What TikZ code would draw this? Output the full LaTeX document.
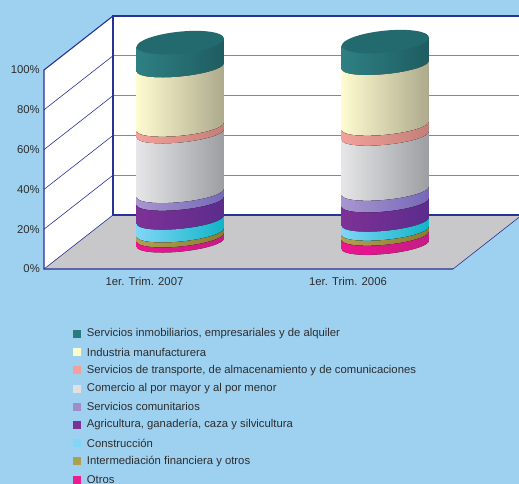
\documentclass[tikz,border=0pt]{standalone}
\usepackage{fontspec}
\setmainfont{Liberation Sans}
\usetikzlibrary{calc}

\definecolor{bgblue}{RGB}{158,208,240}
\definecolor{navy}{RGB}{40,50,150}
\definecolor{gridblue}{RGB}{125,130,200}
\definecolor{floorgray}{RGB}{200,200,202}
\definecolor{txtgray}{RGB}{45,45,45}
% side colours of the bands, lit from the left
\definecolor{tealL}{RGB}{46,128,132}\definecolor{tealR}{RGB}{30,92,96}
\definecolor{creamL}{RGB}{255,251,208}\definecolor{creamR}{RGB}{172,170,140}
\definecolor{pinkL}{RGB}{242,162,154}\definecolor{pinkR}{RGB}{196,126,120}
\definecolor{grayL}{RGB}{230,230,232}\definecolor{grayR}{RGB}{156,158,162}
\definecolor{lavL}{RGB}{168,150,208}\definecolor{lavR}{RGB}{118,104,184}
\definecolor{purL}{RGB}{126,49,150}\definecolor{purR}{RGB}{91,44,140}
\definecolor{cyanL}{RGB}{128,214,246}\definecolor{cyanR}{RGB}{16,180,200}
\definecolor{oliveL}{RGB}{176,160,80}\definecolor{oliveR}{RGB}{138,124,48}
\definecolor{magL}{RGB}{238,20,144}\definecolor{magR}{RGB}{196,28,132}
\definecolor{captop}{RGB}{35,106,110}
% legend swatches
\definecolor{legteal}{RGB}{42,122,126}
\definecolor{legcream}{RGB}{255,251,204}
\definecolor{legpink}{RGB}{244,160,154}
\definecolor{leggray}{RGB}{224,224,224}
\definecolor{leglav}{RGB}{160,140,200}
\definecolor{legpur}{RGB}{123,50,150}
\definecolor{legcyan}{RGB}{127,214,246}
\definecolor{legolive}{RGB}{172,160,80}
\definecolor{legmag}{RGB}{236,28,140}

\tikzset{
  edge line/.style={draw=navy, line width=1.1pt},
  wall line/.style={draw=navy, line width=0.6pt},
  grid line/.style={draw=gridblue, line width=1.2pt},
  axis label/.style={anchor=east, inner sep=0pt, text=txtgray, font=\fontsize{11.3}{13}\selectfont},
  cat label/.style={inner sep=0pt, text=txtgray, font=\fontsize{11.3}{13}\selectfont},
  leg text/.style={anchor=west, inner sep=0pt, text=txtgray, font=\fontsize{11.3}{13}\selectfont},
}

% one coloured slice of a cylinder: centre x, top level, bottom level, left and right colour
\newcommand{\cylband}[5]{%
  \begin{scope}[shift={(#1,0)}, yslant=0.095]
    \fill[left color=#4, right color=#5] (-43.6,#2) -- (-43.6,#3)
      arc[start angle=180, end angle=360, x radius=43.6, y radius=9] -- (43.6,#2)
      arc[start angle=0, end angle=-180, x radius=43.6, y radius=9] -- cycle;
  \end{scope}}

\begin{document}
\begin{tikzpicture}[x=1pt, y=1pt]
  \fill[bgblue] (0,0) rectangle (519,-484);
  \useasboundingbox (0,0) rectangle (519,-484);

  % walls and floor
  \fill[white] (113,-16) -- (519,-16) -- (519,-215) -- (113,-215) -- cycle;
  \fill[white] (44,-70) -- (113,-16) -- (113,-215) -- (44,-269) -- cycle;
  \fill[floorgray] (44,-269) -- (113,-215) -- (519,-215) -- (519,-217.3) -- (453,-269) -- cycle;
  \foreach \k in {1,...,4} {
    \draw[grid line] (113,-215+39.8*\k) -- (519,-215+39.8*\k);
    \draw[wall line] (44,-269+39.8*\k) -- (113,-215+39.8*\k);
  }
  \draw[edge line] (519,-16) -- (113,-16) -- (113,-215) -- (519,-215);
  \draw[edge line] (113,-16) -- (44,-70) -- (44,-269) -- (453,-269);
  \draw[wall line] (44,-269) -- (113,-215);
  \draw[wall line] (453,-269) -- (519,-217.3);

  % axis labels
  \foreach \k in {0,...,5} {
    \pgfmathtruncatemacro{\pc}{20*\k}
    \node[axis label] (lbl\k) at (40,-269+39.8*\k) {\pc\%};
  }

  % first cylinder
  \foreach \t/\b/\cl/\cr in {-42.6/-67.6/tealL/tealR, -67.6/-126.9/creamL/creamR,
      -126.9/-133.6/pinkL/pinkR, -133.6/-193.2/grayL/grayR, -193.2/-200.9/lavL/lavR,
      -200.9/-219.9/purL/purR, -219.9/-232.6/cyanL/cyanR, -232.6/-237.6/oliveL/oliveR,
      -237.6/-242.6/magL/magR}
    \cylband{180.3}{\t}{\b}{\cl}{\cr};
  \begin{scope}[shift={(180.3,0)}, yslant=0.095]
    \fill[captop] (0,-42.6) ellipse[x radius=43.6, y radius=11];
  \end{scope}

  % second cylinder
  \foreach \t/\b/\cl/\cr in {-41.6/-65.2/tealL/tealR, -65.2/-125.9/creamL/creamR,
      -125.9/-135.9/pinkL/pinkR, -135.9/-190.9/grayL/grayR, -190.9/-202.6/lavL/lavR,
      -202.6/-221.9/purL/purR, -221.9/-230.9/cyanL/cyanR, -230.9/-235.9/oliveL/oliveR,
      -235.9/-244.9/magL/magR}
    \cylband{385.3}{\t}{\b}{\cl}{\cr};
  \begin{scope}[shift={(385.3,0)}, yslant=0.095]
    \fill[captop] (0,-41.6) ellipse[x radius=43.6, y radius=11];
  \end{scope}

  % categories
  \node[cat label] (cat07) at (144.5,-281) {1er. Trim. 2007};
  \node[cat label] (cat06) at (348,-281) {1er. Trim. 2006};

  % legend
  \foreach \col/\txt [count=\i] in {
      legteal/{Servicios inmobiliarios, empresariales y de alquiler},
      legcream/{Industria manufacturera},
      legpink/{Servicios de transporte, de almacenamiento y de comunicaciones},
      leggray/{Comercio al por mayor y al por menor},
      leglav/{Servicios comunitarios},
      legpur/{Agricultura, ganadería, caza y silvicultura},
      legcyan/{Construcción},
      legolive/{Intermediación financiera y otros},
      legmag/{Otros}} {
    \fill[\col] (73,-334-18.2*\i+18.2-4) rectangle ++(8,8);
    \node[leg text] (leg\i) at (86.7,-334-18.2*\i+18.2) {\txt};
  }
\end{tikzpicture}
\end{document}
